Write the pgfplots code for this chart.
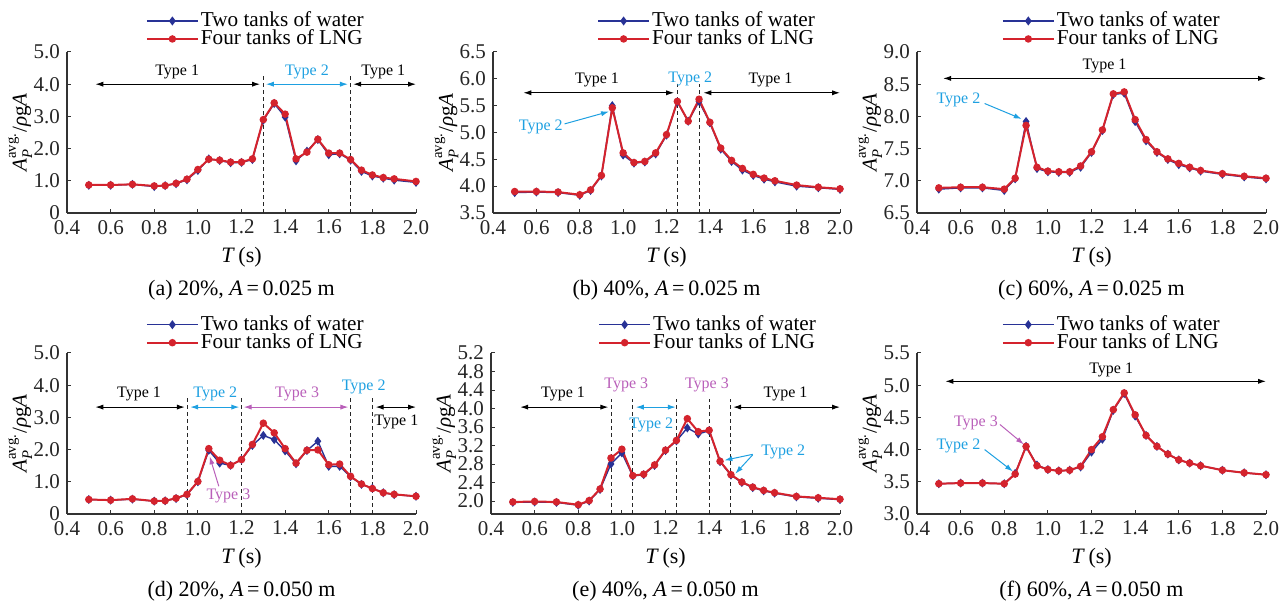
\documentclass[border=0pt]{standalone}
\usepackage{pgfplots}
\pgfplotsset{compat=1.18}
\usepackage{pgfplotstable}
\usepackage{amsmath}
\usepackage{fontspec}
\setmainfont{Liberation Serif}
\usetikzlibrary{arrows.meta}

\definecolor{cblue}{RGB}{40,50,150}
\definecolor{cred}{RGB}{212,35,45}
\definecolor{tcyan}{RGB}{30,160,225}
\definecolor{tpurp}{RGB}{185,95,185}

% T  W(two tanks of water)  L(four tanks of LNG)
\pgfplotstableread{
T W L
0.50 0.86 0.87
0.60 0.86 0.87
0.70 0.89 0.89
0.80 0.82 0.84
0.85 0.85 0.85
0.90 0.91 0.92
0.95 1.03 1.05
1.00 1.32 1.35
1.05 1.68 1.67
1.10 1.63 1.64
1.15 1.56 1.58
1.20 1.57 1.58
1.25 1.66 1.68
1.30 2.88 2.90
1.35 3.40 3.42
1.40 2.98 3.07
1.45 1.62 1.68
1.50 1.92 1.89
1.55 2.28 2.29
1.60 1.81 1.86
1.65 1.84 1.86
1.70 1.64 1.66
1.75 1.29 1.33
1.80 1.15 1.18
1.85 1.08 1.10
1.90 1.02 1.06
2.00 0.95 0.98
}\dataA

\pgfplotstableread{
T W L
0.50 3.88 3.90
0.60 3.89 3.90
0.70 3.88 3.89
0.80 3.83 3.84
0.85 3.92 3.93
0.90 4.19 4.20
0.95 5.50 5.46
1.00 4.58 4.62
1.05 4.43 4.44
1.10 4.45 4.46
1.15 4.60 4.62
1.20 4.95 4.96
1.25 5.57 5.58
1.30 5.21 5.21
1.35 5.58 5.62
1.40 5.18 5.19
1.45 4.69 4.71
1.50 4.46 4.48
1.55 4.30 4.33
1.60 4.20 4.22
1.65 4.13 4.15
1.70 4.08 4.10
1.80 4.00 4.02
1.90 3.97 3.98
2.00 3.94 3.95
}\dataB

\pgfplotstableread{
T W L
0.50 6.87 6.89
0.60 6.89 6.90
0.70 6.89 6.90
0.80 6.85 6.87
0.85 7.03 7.04
0.90 7.92 7.86
0.95 7.19 7.21
1.00 7.14 7.15
1.05 7.13 7.14
1.10 7.13 7.14
1.15 7.21 7.23
1.20 7.44 7.45
1.25 7.78 7.79
1.30 8.34 8.35
1.35 8.36 8.38
1.40 7.92 7.95
1.45 7.62 7.64
1.50 7.44 7.45
1.55 7.33 7.34
1.60 7.25 7.27
1.65 7.20 7.21
1.70 7.15 7.16
1.80 7.10 7.11
1.90 7.06 7.07
2.00 7.03 7.04
}\dataC

\pgfplotstableread{
T W L
0.50 0.45 0.45
0.60 0.43 0.43
0.70 0.46 0.47
0.80 0.40 0.40
0.85 0.41 0.41
0.90 0.48 0.49
0.95 0.60 0.61
1.00 1.00 1.01
1.05 1.98 2.03
1.10 1.58 1.67
1.15 1.51 1.51
1.20 1.69 1.69
1.25 2.13 2.16
1.30 2.44 2.82
1.35 2.31 2.52
1.40 1.96 2.03
1.45 1.56 1.58
1.50 1.97 1.98
1.55 2.26 1.99
1.60 1.48 1.53
1.65 1.48 1.55
1.70 1.16 1.17
1.75 0.92 0.93
1.80 0.80 0.79
1.85 0.66 0.66
1.90 0.60 0.61
2.00 0.55 0.55
}\dataD

\pgfplotstableread{
T W L
0.50 1.97 1.98
0.60 1.98 1.99
0.70 1.97 1.98
0.80 1.91 1.92
0.85 2.00 2.01
0.90 2.25 2.26
0.95 2.80 2.93
1.00 3.04 3.12
1.05 2.54 2.55
1.10 2.57 2.58
1.15 2.77 2.78
1.20 3.09 3.10
1.25 3.30 3.31
1.30 3.58 3.78
1.35 3.45 3.50
1.40 3.52 3.53
1.45 2.85 2.86
1.50 2.56 2.57
1.55 2.40 2.41
1.60 2.29 2.30
1.65 2.22 2.23
1.70 2.17 2.18
1.80 2.09 2.10
1.90 2.06 2.07
2.00 2.03 2.04
}\dataE

\pgfplotstableread{
T W L
0.50 3.47 3.47
0.60 3.48 3.48
0.70 3.48 3.48
0.80 3.47 3.47
0.85 3.63 3.62
0.90 4.05 4.05
0.95 3.76 3.75
1.00 3.69 3.69
1.05 3.67 3.67
1.10 3.68 3.68
1.15 3.73 3.74
1.20 3.96 4.00
1.25 4.16 4.20
1.30 4.61 4.62
1.35 4.87 4.88
1.40 4.52 4.54
1.45 4.22 4.22
1.50 4.05 4.05
1.55 3.93 3.93
1.60 3.84 3.84
1.65 3.79 3.79
1.70 3.75 3.75
1.80 3.68 3.68
1.90 3.64 3.64
2.00 3.61 3.61
}\dataF

\tikzset{
  water/.style={color=cblue, line width=0.7pt, mark=diamond*, mark size=1.7pt, mark options={solid}},
  lng/.style={color=cred, line width=1pt, mark=*, mark size=1.35pt, mark options={solid}},
  vdash/.style={black!85, line width=0.45pt, dash pattern=on 2pt off 1.5pt},
  dbl/.style={line width=0.5pt, {Latex[length=4pt,width=2.6pt]}-{Latex[length=4pt,width=2.6pt]}},
  sgl/.style={line width=0.5pt, -{Latex[length=4pt,width=2.6pt]}},
  ty/.style={font=\fontsize{8}{9}\selectfont, inner sep=0pt},
  capt/.style={font=\fontsize{11}{13}\selectfont, anchor=center},
}

\pgfplotsset{
  panel/.style={
    scale only axis, width=174.5pt, height=80.5pt,
    anchor=south west, clip=false,
    separate axis lines,
    axis x line*=bottom, axis y line*=left,
    x axis line style={-, black!80, line width=0.6pt},
    y axis line style={-, black!80, line width=0.6pt},
    tick align=inside, major tick length=2.2pt,
    tick style={black!80, line width=0.5pt},
    xmin=0.4, xmax=2.0,
    xtick={0.4,0.6,0.8,1.0,1.2,1.4,1.6,1.8,2.0},
    xticklabel style={/pgf/number format/.cd, fixed, fixed zerofill, precision=1, assume math mode=true},
    yticklabel style={/pgf/number format/.cd, fixed, fixed zerofill, precision=1, assume math mode=true},
    tick label style={font=\fontsize{10.5}{12}\selectfont, text=black!85},
    xlabel={\textit{T}\,(s)},
    xlabel style={at={(axis description cs:0.5,-0.273)}, anchor=center, font=\fontsize{11}{13}\selectfont},
    ylabel={$\text{\itshape A}_{\text{\itshape P}}^{\text{avg.}}$/\textit{ρ}g\textit{A}},
    ylabel style={at={(axis description cs:-0.134,0.5)}, anchor=center, font=\fontsize{10.5}{12}\selectfont},
    legend style={draw=none, fill=none, anchor=south west,
      font=\fontsize{10.6}{10}\selectfont, inner sep=0pt, outer sep=0pt,
      row sep=0pt, nodes={inner sep=1pt, text height=6.5pt, text depth=0.5pt}},
    legend cell align=left,
    legend image code/.code={\draw[mark repeat=2,mark phase=2] plot coordinates {(0pt,0pt) (12.75pt,0pt) (25.5pt,0pt)};},
  },
}

\begin{document}
\begin{tikzpicture}
\useasboundingbox (0,0) rectangle (640pt,301.5pt);

% (a)
\begin{axis}[panel, at={(33.5pt,195pt)}, ymin=0, ymax=5,
  ytick={0,1,2,3,4,5}, yticklabels={0,1.0,2.0,3.0,4.0,5.0},
  legend style={at={(0.226,1.025)}}]
\addplot[water] table[x=T,y=W] {\dataA};
\addplot[lng] table[x=T,y=L] {\dataA};
\legend{Two tanks of water, Four tanks of LNG}
\draw[vdash] (1.3,0) -- (1.3,4.3);
\draw[vdash] (1.7,0) -- (1.7,4.3);
\draw[dbl, black] (0.53,4.0) -- (1.285,4.0);
\draw[dbl, tcyan] (1.312,4.0) -- (1.688,4.0);
\draw[dbl, black] (1.712,4.0) -- (2.0,4.0);
\node[ty] at (0.905,4.37) {Type 1};
\node[ty, text=tcyan] at (1.5,4.37) {Type 2};
\node[ty] at (1.85,4.37) {Type 1};
\node[capt] at (axis description cs:0.5,-0.48) {(a) 20\%, \textit{A}\,=\,0.025 m};
\end{axis}

% (b)
\begin{axis}[panel, at={(246.5pt,195pt)}, width=173.5pt, ymin=3.5, ymax=6.5,
  ytick={3.5,4.0,4.5,5.0,5.5,6.0,6.5},
  legend style={at={(0.30,1.025)}}]
\addplot[water] table[x=T,y=W] {\dataB};
\addplot[lng] table[x=T,y=L] {\dataB};
\legend{Two tanks of water, Four tanks of LNG}
\draw[vdash] (1.25,3.5) -- (1.25,5.9);
\draw[vdash] (1.35,3.5) -- (1.35,5.9);
\draw[dbl, black] (0.54,5.74) -- (1.235,5.74);
\draw[dbl, black] (1.37,5.74) -- (2.0,5.74);
\node[ty] at (0.88,5.98) {Type 1};
\node[ty, text=tcyan] at (1.31,6.0) {Type 2};
\node[ty] at (1.68,5.98) {Type 1};
\node[ty, text=tcyan] at (0.62,5.11) {Type 2};
\draw[sgl, tcyan] (0.73,5.16) -- (0.935,5.39);
\node[capt] at (axis description cs:0.5,-0.48) {(b) 40\%, \textit{A}\,=\,0.025 m};
\end{axis}

% (c)
\begin{axis}[panel, at={(458.5pt,195pt)}, ymin=6.5, ymax=9.0,
  ytick={6.5,7.0,7.5,8.0,8.5,9.0},
  legend style={at={(0.243,1.025)}}]
\addplot[water] table[x=T,y=W] {\dataC};
\addplot[lng] table[x=T,y=L] {\dataC};
\legend{Two tanks of water, Four tanks of LNG}
\draw[dbl, black] (0.52,8.59) -- (2.0,8.59);
\node[ty] at (1.26,8.78) {Type 1};
\node[ty, text=tcyan] at (0.59,8.26) {Type 2};
\draw[sgl, tcyan] (0.71,8.2) -- (0.88,7.96);
\node[capt] at (axis description cs:0.5,-0.48) {(c) 60\%, \textit{A}\,=\,0.025 m};
\end{axis}

% (d)
\begin{axis}[panel, at={(33.5pt,44.5pt)}, ymin=0, ymax=5,
  ytick={0,1,2,3,4,5}, yticklabels={0,1.0,2.0,3.0,4.0,5.0},
  legend style={at={(0.226,1.008)}}]
\addplot[water] table[x=T,y=W] {\dataD};
\addplot[lng] table[x=T,y=L] {\dataD};
\legend{Two tanks of water, Four tanks of LNG}
\draw[vdash] (0.95,0) -- (0.95,3.6);
\draw[vdash] (1.2,0) -- (1.2,3.6);
\draw[vdash] (1.7,0) -- (1.7,3.6);
\draw[vdash] (1.8,0) -- (1.8,3.6);
\draw[dbl, black] (0.53,3.32) -- (0.94,3.32);
\draw[dbl, tcyan] (0.965,3.32) -- (1.19,3.32);
\draw[dbl, tpurp] (1.21,3.32) -- (1.69,3.32);
\draw[dbl, black] (1.815,3.32) -- (2.0,3.32);
\node[ty] at (0.73,3.73) {Type 1};
\node[ty, text=tcyan] at (1.08,3.73) {Type 2};
\node[ty, text=tpurp] at (1.455,3.73) {Type 3};
\node[ty, text=tcyan] at (1.76,3.94) {Type 2};
\node[ty] at (1.91,2.85) {Type 1};
\node[ty, text=tpurp] at (1.14,0.55) {Type 3};
\draw[sgl, tpurp] (1.096,0.86) -- (1.054,1.79);
\node[capt] at (axis description cs:0.5,-0.48) {(d) 20\%, \textit{A}\,=\,0.050 m};
\end{axis}

% (e)
\begin{axis}[panel, at={(245.5pt,44.5pt)}, ymin=1.72, ymax=5.2,
  ytick={2.0,2.4,2.8,3.2,3.6,4.0,4.4,4.8,5.2},
  legend style={at={(0.307,1.008)}}]
\addplot[water] table[x=T,y=W] {\dataE};
\addplot[lng] table[x=T,y=L] {\dataE};
\legend{Two tanks of water, Four tanks of LNG}
\draw[vdash] (0.95,1.72) -- (0.95,4.21);
\draw[vdash] (1.05,1.72) -- (1.05,4.21);
\draw[vdash] (1.25,1.72) -- (1.25,4.21);
\draw[vdash] (1.4,1.72) -- (1.4,4.21);
\draw[vdash] (1.5,1.72) -- (1.5,4.21);
\draw[dbl, black] (0.534,4.03) -- (0.938,4.03);
\draw[dbl, tcyan] (1.064,4.03) -- (1.247,4.03);
\draw[dbl, black] (1.51,4.03) -- (2.0,4.03);
\node[ty] at (0.73,4.32) {Type 1};
\node[ty, text=tpurp] at (1.02,4.5) {Type 3};
\node[ty, text=tpurp] at (1.39,4.5) {Type 3};
\node[ty] at (1.75,4.32) {Type 1};
\node[ty, text=tcyan] at (1.135,3.64) {Type 2};
\node[ty, text=tcyan] at (1.74,3.06) {Type 2};
\draw[sgl, tcyan] (1.60,3.01) -- (1.47,2.88);
\draw[sgl, tcyan] (1.60,3.00) -- (1.52,2.59);
\node[capt] at (axis description cs:0.5,-0.48) {(e) 40\%, \textit{A}\,=\,0.050 m};
\end{axis}

% (f)
\begin{axis}[panel, at={(458.5pt,44.5pt)}, ymin=3.0, ymax=5.5,
  ytick={3.0,3.5,4.0,4.5,5.0,5.5},
  legend style={at={(0.243,1.008)}}]
\addplot[water] table[x=T,y=W] {\dataF};
\addplot[lng] table[x=T,y=L] {\dataF};
\legend{Two tanks of water, Four tanks of LNG}
\draw[dbl, black] (0.53,5.06) -- (2.0,5.06);
\node[ty] at (1.29,5.24) {Type 1};
\node[ty, text=tpurp] at (0.67,4.42) {Type 3};
\draw[sgl, tpurp] (0.78,4.39) -- (0.89,4.08);
\node[ty, text=tcyan] at (0.59,4.05) {Type 2};
\draw[sgl, tcyan] (0.71,4.0) -- (0.84,3.66);
\node[capt] at (axis description cs:0.5,-0.48) {(f) 60\%, \textit{A}\,=\,0.050 m};
\end{axis}
\end{tikzpicture}
\end{document}
